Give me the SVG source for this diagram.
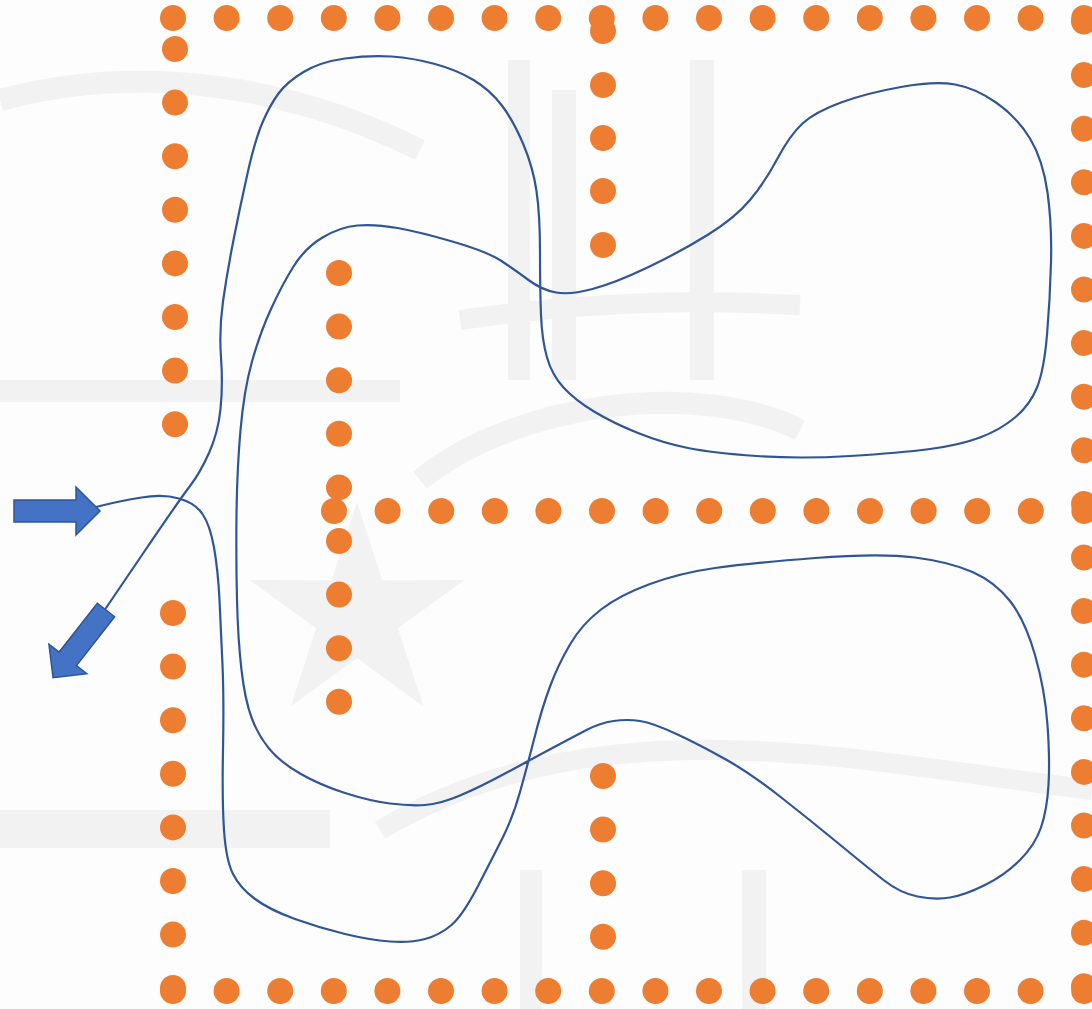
<svg xmlns="http://www.w3.org/2000/svg" xmlns:xlink="http://www.w3.org/1999/xlink" width="1092" height="1009" viewBox="0 0 1092 1009">
<style>
.wm{fill:#f2f2f2;stroke:none}
.wms{fill:none;stroke:#f2f2f2}
.d{fill:#ED7D31}
.route{fill:none;stroke:#2F5597;stroke-width:2.2;stroke-linejoin:round;stroke-linecap:round}
.arrow{fill:#4472C4;stroke:#2F5597;stroke-width:1.5;stroke-linejoin:miter}
</style>
<defs>
<circle id="dot" r="13" class="d"/>
<polygon id="arr" class="arrow" points="0,-11 62,-11 62,-24 86,0 62,24 62,11 0,11"/>
</defs>
<rect x="0" y="0" width="1092" height="1009" fill="#fdfdfd"/>
<g id="watermark">
<polygon class="wm" points="357,502 382.3,580.2 464.5,580 397.9,628.3 423.4,706.4 357,658 290.6,706.4 316.1,628.3 249.5,580 331.7,580.2"/>
<rect class="wm" x="0" y="810" width="330" height="38"/>
<rect class="wm" x="0" y="380" width="400" height="22"/>
<path class="wms" stroke-width="22" d="M0,100 C150,60 300,90 420,150"/>
<path class="wms" stroke-width="20" d="M380,830 C600,700 850,760 1092,790"/>
<path class="wms" stroke-width="20" d="M460,320 C600,300 700,300 800,305"/>
<path class="wms" stroke-width="22" d="M420,480 C520,400 700,380 800,430"/>
<rect class="wm" x="508" y="60" width="22" height="320"/>
<rect class="wm" x="552" y="90" width="24" height="290"/>
<rect class="wm" x="690" y="60" width="24" height="320"/>
<rect class="wm" x="742" y="870" width="24" height="139"/>
<rect class="wm" x="520" y="870" width="22" height="139"/>
</g>
<g id="dots-top">
<use href="#dot" x="173" y="18"/><use href="#dot" x="226.6" y="18"/><use href="#dot" x="280.2" y="18"/><use href="#dot" x="333.8" y="18"/><use href="#dot" x="387.4" y="18"/><use href="#dot" x="441" y="18"/><use href="#dot" x="494.6" y="18"/><use href="#dot" x="548.2" y="18"/><use href="#dot" x="601.8" y="18"/><use href="#dot" x="655.4" y="18"/><use href="#dot" x="709" y="18"/><use href="#dot" x="762.6" y="18"/><use href="#dot" x="816.2" y="18"/><use href="#dot" x="869.8" y="18"/><use href="#dot" x="923.4" y="18"/><use href="#dot" x="977" y="18"/><use href="#dot" x="1030.6" y="18"/><use href="#dot" x="1084.2" y="18"/>
</g>
<g id="dots-left-upper">
<use href="#dot" x="175" y="49"/><use href="#dot" x="175" y="102.6"/><use href="#dot" x="175" y="156.2"/><use href="#dot" x="175" y="209.8"/><use href="#dot" x="175" y="263.4"/><use href="#dot" x="175" y="317"/><use href="#dot" x="175" y="370.6"/><use href="#dot" x="175" y="424.2"/>
</g>
<g id="dots-mid-upper">
<use href="#dot" x="603" y="31"/><use href="#dot" x="603" y="85"/><use href="#dot" x="603" y="138"/><use href="#dot" x="603" y="191"/><use href="#dot" x="603" y="245"/>
</g>
<g id="dots-right">
<use href="#dot" x="1084" y="21.5"/><use href="#dot" x="1084" y="75.1"/><use href="#dot" x="1084" y="128.7"/><use href="#dot" x="1084" y="182.3"/><use href="#dot" x="1084" y="235.9"/><use href="#dot" x="1084" y="289.5"/><use href="#dot" x="1084" y="343.1"/><use href="#dot" x="1084" y="396.7"/><use href="#dot" x="1084" y="450.3"/><use href="#dot" x="1084" y="503.9"/><use href="#dot" x="1084" y="557.5"/><use href="#dot" x="1084" y="611.1"/><use href="#dot" x="1084" y="664.7"/><use href="#dot" x="1084" y="718.3"/><use href="#dot" x="1084" y="771.9"/><use href="#dot" x="1084" y="825.5"/><use href="#dot" x="1084" y="879.1"/><use href="#dot" x="1084" y="932.7"/><use href="#dot" x="1084" y="986.3"/>
</g>
<g id="dots-middle-row">
<use href="#dot" x="334" y="511"/><use href="#dot" x="387.6" y="511"/><use href="#dot" x="441.2" y="511"/><use href="#dot" x="494.8" y="511"/><use href="#dot" x="548.4" y="511"/><use href="#dot" x="602" y="511"/><use href="#dot" x="655.6" y="511"/><use href="#dot" x="709.2" y="511"/><use href="#dot" x="762.8" y="511"/><use href="#dot" x="816.4" y="511"/><use href="#dot" x="870" y="511"/><use href="#dot" x="923.6" y="511"/><use href="#dot" x="977.2" y="511"/><use href="#dot" x="1030.8" y="511"/><use href="#dot" x="1084.4" y="511"/>
</g>
<g id="dots-inner-column">
<use href="#dot" x="339" y="273"/><use href="#dot" x="339" y="326.6"/><use href="#dot" x="339" y="380.2"/><use href="#dot" x="339" y="433.8"/><use href="#dot" x="339" y="487.4"/><use href="#dot" x="339" y="541"/><use href="#dot" x="339" y="594.6"/><use href="#dot" x="339" y="648.2"/><use href="#dot" x="339" y="701.8"/>
</g>
<g id="dots-left-lower">
<use href="#dot" x="173" y="613"/><use href="#dot" x="173" y="666.6"/><use href="#dot" x="173" y="720.2"/><use href="#dot" x="173" y="773.8"/><use href="#dot" x="173" y="827.4"/><use href="#dot" x="173" y="881"/><use href="#dot" x="173" y="934.6"/><use href="#dot" x="173" y="988"/>
</g>
<g id="dots-mid-lower">
<use href="#dot" x="603" y="776"/><use href="#dot" x="603" y="829.6"/><use href="#dot" x="603" y="883.2"/><use href="#dot" x="603" y="936.8"/>
</g>
<g id="dots-bottom">
<use href="#dot" x="173" y="991"/><use href="#dot" x="226.6" y="991"/><use href="#dot" x="280.2" y="991"/><use href="#dot" x="333.8" y="991"/><use href="#dot" x="387.4" y="991"/><use href="#dot" x="441" y="991"/><use href="#dot" x="494.6" y="991"/><use href="#dot" x="548.2" y="991"/><use href="#dot" x="601.8" y="991"/><use href="#dot" x="655.4" y="991"/><use href="#dot" x="709" y="991"/><use href="#dot" x="762.6" y="991"/><use href="#dot" x="816.2" y="991"/><use href="#dot" x="869.8" y="991"/><use href="#dot" x="923.4" y="991"/><use href="#dot" x="977" y="991"/><use href="#dot" x="1030.6" y="991"/><use href="#dot" x="1084.2" y="991"/>
</g>
<g id="connectors">
<path class="route" d="M84,510 L102,505.5 Q120,501 141.5,497.5 Q163,494 179,498.5 Q195,503 202.5,514 Q210,525 214,547.5 Q218,570 219.5,600 Q221,630 222.5,665 Q224,700 223,750 Q222,800 224,830 Q226,860 233,874 Q240,888 255,899 Q270,910 295,919 Q320,928 345,934 Q370,940 390,941.5 Q410,943 425,939 Q440,935 451.5,925 Q463,915 478,886 Q493,857 503,837 Q513,817 520,792 Q527,767 534.5,737.5 Q542,708 550,686.5 Q558,665 570,644.5 Q582,624 601,609.5 Q620,595 650,584 Q680,573 715,568 Q750,563 815,558 Q880,553 915,557.5 Q950,562 972.5,572 Q995,582 1010,601 Q1025,620 1035,655 Q1045,690 1047.5,725 Q1050,760 1048.5,785 Q1047,810 1041,827.5 Q1035,845 1020,860 Q1005,875 985,885 Q965,895 950,897.5 Q935,900 917.5,896.5 Q900,893 883.5,880 Q867,867 838.5,843.5 Q810,820 780,796.5 Q750,773 725,759 Q700,745 676.5,734 Q653,723 640,721 Q627,719 613.5,721 Q600,723 586.5,730 Q573,737 551.5,748.5 Q530,760 505,773.5 Q480,787 460,795.5 Q440,804 425,805 Q410,806 390,803.5 Q370,801 345,793 Q320,785 300,773.5 Q280,762 269,748.5 Q258,735 251.5,717.5 Q245,700 241.5,670 Q238,640 237,600 Q236,560 236.5,515 Q237,470 240.5,430 Q244,390 252,361.5 Q260,333 271,309 Q282,285 293.5,266.5 Q305,248 322.5,237.5 Q340,227 357.5,225.5 Q375,224 397.5,228 Q420,232 454,242 Q488,252 501.5,261 Q515,270 528.5,280 Q542,290 556,292.5 Q570,295 592.5,289 Q615,283 647.5,267.5 Q680,252 707.5,235 Q735,218 750,200 Q765,182 777.5,158.5 Q790,135 802.5,123.5 Q815,112 841,102.5 Q867,93 901,87 Q935,81 955,84.5 Q975,88 996,102.5 Q1017,117 1030,138.5 Q1043,160 1047.5,192.5 Q1052,225 1051,262.5 Q1050,300 1047,335 Q1044,370 1037,387.5 Q1030,405 1015,417.5 Q1000,430 980,437.5 Q960,445 930,449 Q900,453 850,456 Q800,459 756.5,456 Q713,453 688,448 Q663,443 638,433 Q613,423 594,411.5 Q575,400 563.5,387.5 Q552,375 547,357.5 Q542,340 541,315 Q540,290 540,252.5 Q540,215 536.5,191 Q533,167 523,143.5 Q513,120 501.5,105 Q490,90 473.5,80 Q457,70 435,64 Q413,58 391.5,56.5 Q370,55 345,58.5 Q320,62 303.5,72 Q287,82 278.5,93.5 Q270,105 262.5,122.5 Q255,140 247.5,173.5 Q240,207 233.5,240 Q227,273 223,301.5 Q219,330 221,357.5 Q223,385 220.5,409 Q218,433 209,453 Q200,473 190,486 Q180,499 143,553.5 L106,608"/>
</g>
<g id="arrow-in">
<use href="#arr" transform="translate(14,511)"/>
</g>
<g id="arrow-out">
<use href="#arr" transform="translate(106,610) rotate(128)"/>
</g>
</svg>
